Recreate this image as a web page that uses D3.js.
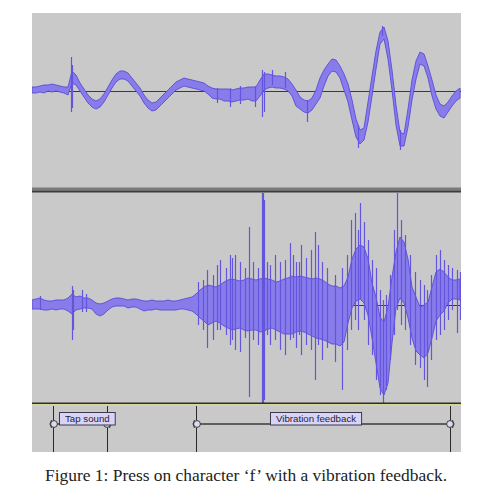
<!DOCTYPE html>
<html>
<head>
<meta charset="utf-8">
<script src="https://cdn.jsdelivr.net/npm/d3@7"></script>
<style>
  body { margin: 0; background: #fff; }
  svg { display: block; }
</style>
</head>
<body>
<div id="chart"></div>
<script>
// waveform envelopes, one value every 4 time units (t = 0, 4, ... 428)
// top track: amplitude of the dense band (upper / lower edge)
const topHi = [4, 4, 5, 6, 6, 7, 6, 5, 4, 4, 20, 16, 8, 2, -4, -8, -10, -8, -3, 4,
  11, 17, 20, 20, 18, 13, 8, 3, -4, -9, -12, -11, -7, -3, 1, 5, 9, 11, 13, 12,
  11, 10, 9, 8, 5, 3, 2, 2, 2, 2, 1, 2, 3, 3, 4, 4, 4, 11, 17, 17,
  16, 15, 15, 14, 12, 7, 1, -6, -9, -10, -7, 1, 13, 21, 27, 32, 31, 25, 17, 7,
  -9, -28, -39, -37, -11, 15, 40, 59, 64, 50, 21, -14, -41, -43, -18, 11, 30, 39, 37, 25,
  11, -4, -13, -15, -11, -5, 0, 3];
const topLo = [-2, -2, -1, -2, 0, -1, 0, -1, -2, -4, 8, 6, 0, -6, -12, -16, -18, -16, -11, -4,
  3, 9, 12, 12, 10, 5, 0, -5, -12, -17, -20, -19, -15, -11, -7, -3, 1, 3, 5, 4,
  3, 2, 1, 0, -3, -7, -8, -8, -10, -10, -11, -10, -9, -9, -8, -10, -10, -5, 1, 3,
  4, 3, 3, 2, 0, -5, -15, -18, -21, -22, -19, -13, -7, 5, 15, 20, 19, 13, 1, -11,
  -29, -46, -53, -49, -31, -5, 22, 47, 52, 32, 1, -34, -55, -55, -36, -9, 12, 27, 25, 13,
  -5, -18, -25, -27, -21, -15, -10, -7];

// bottom track: amplitude of the dense band (upper / lower edge)
const botHi = [5, 6, 7, 5, 4, 4, 5, 5, 5, 7, 11, 8, 9, 7, 7, 5, 2, 1, 2, 4,
  6, 7, 7, 6, 5, 6, 6, 5, 4, 4, 5, 4, 4, 4, 5, 4, 4, 5, 6, 7,
  8, 11, 15, 18, 20, 19, 18, 20, 23, 25, 26, 25, 24, 25, 27, 26, 25, 26, 27, 26,
  25, 23, 24, 26, 27, 29, 28, 29, 28, 27, 26, 27, 26, 24, 21, 19, 19, 17, 19, 28,
  46, 56, 60, 58, 46, 22, 8, -12, -17, -2, 28, 53, 68, 63, 46, 18, 8, -2, 0, 3,
  18, 33, 36, 33, 28, 25, 25, 26];
const botLo = [-4, -4, -4, -5, -5, -4, -5, -4, -4, -6, -9, -5, -4, -3, -3, -4, -9, -11, -9, -5,
  -2, -1, -1, -1, -3, -2, -2, -4, -6, -5, -5, -4, -5, -5, -5, -5, -5, -4, -4, -5,
  -6, -9, -13, -16, -20, -18, -16, -18, -21, -23, -25, -24, -23, -25, -26, -25, -25, -27, -26, -24,
  -23, -25, -27, -29, -29, -29, -27, -26, -27, -29, -31, -33, -34, -35, -37, -39, -39, -41, -37, -18,
  -3, 4, 6, 2, -10, -33, -58, -83, -90, -78, -38, -3, 7, 2, -13, -33, -46, -50, -53, -48,
  -33, -16, -10, -6, 2, 6, 6, 5];

// single sample spikes: [time, high, low]
const topSpikes = [[39, 34, -21], [40, 26, -17], [185, 3, -12], [198, 3, -16], [208, 5, -13],
  [223, 5, -16], [230, 21, -26], [232, 19, -21], [240, 21, 6], [253, 19, 3], [275, -9, -31],
  [326, -34, -57], [350, 65, 55], [368, -39, -59]];
const botSpikes = [[8, 9, -5], [40, 19, -35], [41, 15, -25], [50, 15, -7], [54, 11, -7],
  [166, 23, -20], [171, 25, -25], [175, 35, -43], [181, 30, -35], [185, 40, -25], [188, 45, -25],
  [194, 37, -30], [198, 50, -40], [200, 47, -35], [203, 50, -45], [208, 43, -47], [213, 37, -33],
  [217, 78, -92], [221, 43, -35], [226, 37, -40], [230, 112, -98], [231, 112, -98], [232, 105, -95],
  [235, 43, -30], [238, 40, -40], [243, 50, -35], [248, 43, -45], [253, 45, -50], [258, 62, -35],
  [261, 50, -33], [264, 43, -43], [267, 43, -30], [269, 60, -50], [274, 47, -40], [279, 55, -45],
  [283, 73, -75], [286, 60, -40], [290, 43, -55], [295, 37, -43], [303, 30, -57], [310, 37, -85],
  [315, 50, -45], [319, 85, -25], [323, 92, -15], [326, 75, -25], [328, 102, 5], [332, 83, -15],
  [336, 65, -40], [340, 45, -50], [344, 37, -75], [348, 15, -90], [351, 5, -98], [354, 10, -85],
  [358, 30, -55], [362, 75, -30], [365, 112, -5], [369, 85, -20], [373, 70, -25], [378, 50, -40],
  [383, 33, -60], [388, 25, -63], [392, 20, -75], [395, 15, -82], [399, 30, -55], [404, 50, -35],
  [408, 55, -30], [412, 45, -25], [416, 40, -15], [420, 37, -5], [425, 35, -28], [428, 33, -15]];

// label track
const labelText = ["Tap sound", "Vibration feedback"];
const labelStart = [21, 164];
const labelEnd = [75, 418];

const caption = "Figure 1: Press on character \u2018f\u2019 with a vibration feedback.";

const width = 492, height = 500;
const panel = { left: 32, right: 461, top: 13, bottom: 452 };
const waveFill = "#887ceb";
const waveEdge = "#5a4bd8";
const spikeColor = "#6355de";
const bgGray = "#c9c9c9";

const svg = d3.select("#chart").append("svg")
  .attr("width", width)
  .attr("height", height);

const x = d3.scaleLinear().domain([0, 429]).range([panel.left, panel.right]);
const sampleT = d3.range(0, 429, 4);

// whole grey panel
svg.append("rect")
  .attr("x", panel.left).attr("y", panel.top)
  .attr("width", panel.right - panel.left).attr("height", panel.bottom - panel.top)
  .attr("fill", bgGray);

const drawTrack = (id, y0, y1, domain, hi, lo, spikes) => {
  const y = d3.scaleLinear().domain(domain).range([y1, y0]);
  const g = svg.append("g");
  svg.append("clipPath").attr("id", id)
    .append("rect")
    .attr("x", panel.left).attr("y", y0)
    .attr("width", panel.right - panel.left).attr("height", y1 - y0);
  g.attr("clip-path", `url(#${id})`);

  // zero line
  g.append("line")
    .attr("x1", panel.left).attr("x2", panel.right)
    .attr("y1", Math.round(y(0)) + 0.5).attr("y2", Math.round(y(0)) + 0.5)
    .attr("stroke", "#3a3a3a").attr("stroke-width", 1);

  const area = d3.area()
    .x((d, i) => x(sampleT[i]))
    .y0((d, i) => y(lo[i]))
    .y1((d, i) => y(hi[i]));

  g.append("path")
    .datum(hi)
    .attr("d", area)
    .attr("fill", waveFill)
    .attr("stroke", waveEdge)
    .attr("stroke-width", 0.9)
    .attr("stroke-linejoin", "round");

  // spikes on top so they also streak through the dense band
  g.selectAll(".spike")
    .data(spikes)
    .join("line")
    .attr("class", "spike")
    .attr("x1", (d) => Math.round(x(d[0])) + 0.5)
    .attr("x2", (d) => Math.round(x(d[0])) + 0.5)
    .attr("y1", (d) => y(d[1]))
    .attr("y2", (d) => y(d[2]))
    .attr("stroke", spikeColor)
    .attr("stroke-width", 1.2);
};

drawTrack("clipTop", panel.top, 188, [-97, 78], topHi, topLo, topSpikes);
drawTrack("clipBot", 193, 403, [-98, 112], botHi, botLo, botSpikes);

// separators between tracks
svg.append("rect").attr("x", panel.left).attr("y", 187.5)
  .attr("width", panel.right - panel.left).attr("height", 3).attr("fill", "#7b7b7b");
svg.append("rect").attr("x", panel.left).attr("y", 190.5)
  .attr("width", panel.right - panel.left).attr("height", 2).attr("fill", "#3c3c3c");
svg.append("rect").attr("x", panel.left).attr("y", 402.5)
  .attr("width", panel.right - panel.left).attr("height", 1.5).attr("fill", "#2e2e2e");
svg.append("rect").attr("x", panel.left).attr("y", 404)
  .attr("width", panel.right - panel.left).attr("height", 1.8).attr("fill", "#d6d69a");

// label track
const labels = labelText.map((t, i) => ({ text: t, start: labelStart[i], end: labelEnd[i] }));
const lg = svg.append("g");
const lineY = 424;

labels.forEach((d) => {
  const xs = Math.round(x(d.start)) + 0.5;
  const xe = Math.round(x(d.end)) + 0.5;
  [xs, xe].forEach((xx) => {
    lg.append("line")
      .attr("x1", xx).attr("x2", xx)
      .attr("y1", 406).attr("y2", panel.bottom)
      .attr("stroke", "#2a2a2a").attr("stroke-width", 1);
  });
  lg.append("line")
    .attr("x1", xs + 3).attr("x2", xe - 3)
    .attr("y1", lineY).attr("y2", lineY)
    .attr("stroke", "#5e5e5e").attr("stroke-width", 2);
  [[xs, 1], [xe, -1]].forEach(([xx, dir]) => {
    lg.append("circle")
      .attr("cx", xx + dir * 0.5).attr("cy", lineY)
      .attr("r", 3.4)
      .attr("fill", "#dcdaf0").attr("stroke", "#3a3a3a").attr("stroke-width", 1);
    lg.append("path")
      .attr("d", `M${xx - dir * 2},${lineY - 4} Q${xx - dir * 5},${lineY} ${xx - dir * 2},${lineY + 4}`)
      .attr("fill", "none").attr("stroke", "#3a3a3a").attr("stroke-width", 1);
  });

  const box = lg.append("g");
  const txt = box.append("text")
    .attr("font-family", "'Liberation Sans', Arial, sans-serif")
    .attr("font-size", 9.7)
    .attr("fill", "#1e1e2e")
    .text(d.text);
  const tw = txt.node().getComputedTextLength();
  const bw = tw + 11;
  const mid = (x(d.start) + x(d.end)) / 2;
  const left = Math.round(Math.max(x(d.start) + 6, mid - bw / 2 - 7)) + 0.5;
  box.insert("rect", "text")
    .attr("x", left).attr("y", 412.5)
    .attr("width", bw).attr("height", 12.5)
    .attr("fill", "#d9d3f7").attr("stroke", "#3a3a4a").attr("stroke-width", 1);
  txt.attr("x", left + 5.5).attr("y", 422);
});

// caption
svg.append("text")
  .attr("x", 45).attr("y", 480.5)
  .attr("font-family", "'Liberation Serif', 'DejaVu Serif', serif")
  .attr("font-size", 16)
  .attr("fill", "#222")
  .attr("textLength", 402)
  .attr("lengthAdjust", "spacingAndGlyphs")
  .text(caption);
</script>
</body>
</html>
